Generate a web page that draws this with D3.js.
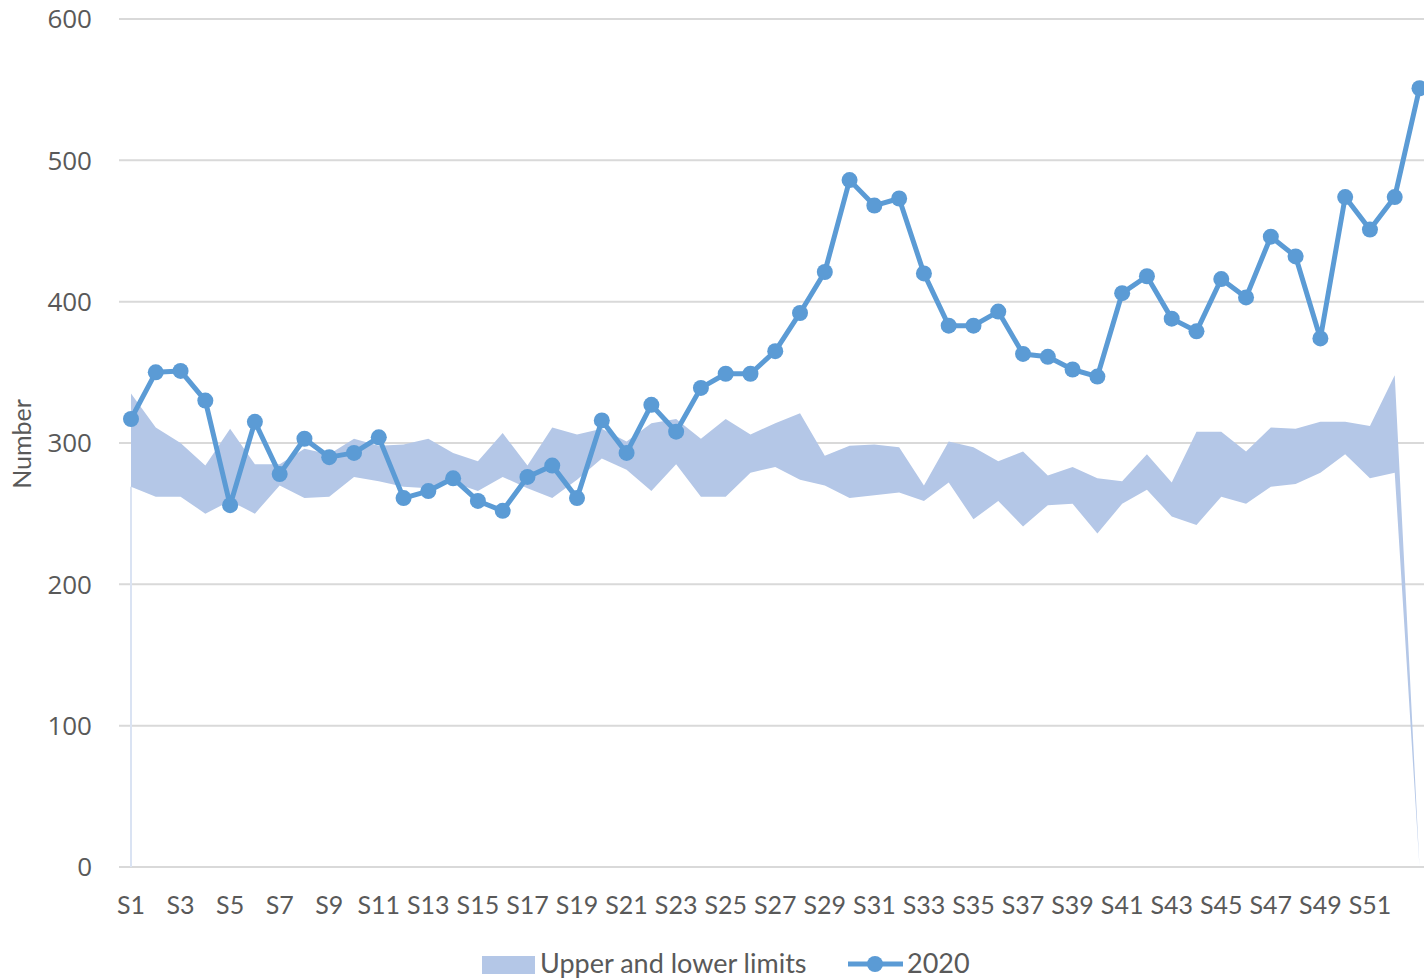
<!DOCTYPE html>
<html><head><meta charset="utf-8">
<script src="https://cdn.jsdelivr.net/npm/d3@7"></script>
<style>body{margin:0;background:#fff}svg{display:block}</style>
</head><body>
<svg id="chart" width="1424" height="980"></svg>
<script>
const weeks = d3.range(1, 54).map(i => "S" + i);
const values2020 = [317,350,351,330,256,315,278,303,290,293,304,261,266,275,259,252,276,284,261,316,293,327,308,339,349,349,365,392,421,486,468,473,420,383,383,393,363,361,352,347,406,418,388,379,416,403,446,432,374,474,451,474,551];
const upperLimit = [335,311,300,284,310,285,285,296,292,303,298,299,303,293,287,307,284,311,306,310,301,314,317,303,317,306,314,321,291,298,299,297,270,301,297,287,294,277,283,275,273,292,272,308,308,294,311,310,315,315,312,348,0];
const lowerLimit = [269,262,262,250,259,250,270,261,262,276,273,269,268,272,266,276,268,261,274,289,281,266,285,262,262,279,283,274,270,261,263,265,259,272,246,259,241,256,257,236,257,267,248,242,262,257,269,271,279,292,275,279,0];
const yTicks = [0,100,200,300,400,500,600];
const xTickLabels = weeks.filter((d,i) => i % 2 === 0 && i < 52);

const svg = d3.select("#chart");
const x = d3.scalePoint().domain(weeks).range([131, 1419.5]);
const y = d3.scaleLinear().domain([0, 600]).range([867, 19]);

// gridlines
svg.append("g").selectAll("line").data(yTicks).join("line")
  .attr("x1", 119).attr("x2", 1424)
  .attr("y1", d => y(d)).attr("y2", d => y(d))
  .attr("stroke", "#d9d9d9").attr("stroke-width", 2);

// y tick labels
svg.append("g").selectAll("text").data(yTicks).join("text")
  .attr("x", 92).attr("y", d => y(d)).attr("dy", "0.36em")
  .attr("text-anchor", "end")
  .attr("font-family", "'Open Sans', sans-serif").attr("font-size", 26)
  .attr("fill", "#595959").text(d => d);

// y axis title
svg.append("text")
  .attr("transform", "translate(31,444) rotate(-90)")
  .attr("text-anchor", "middle")
  .attr("font-family", "Lato, sans-serif").attr("font-size", 25)
  .attr("fill", "#595959").text("Number");

// faint edge of lower series at S1
svg.append("line")
  .attr("x1", x(weeks[0])).attr("x2", x(weeks[0]))
  .attr("y1", y(lowerLimit[0])).attr("y2", y(0))
  .attr("stroke", "#dae3f3").attr("stroke-width", 2);

// band
const area = d3.area()
  .x((d,i) => x(weeks[i]))
  .y0((d,i) => y(lowerLimit[i]))
  .y1((d,i) => y(upperLimit[i]));
svg.append("path").datum(weeks).attr("d", area).attr("fill", "#b4c7e7");

// 2020 line
const line = d3.line().x((d,i) => x(weeks[i])).y(d => y(d));
svg.append("path").datum(values2020).attr("d", line)
  .attr("fill", "none").attr("stroke", "#5b9bd5").attr("stroke-width", 5)
  .attr("stroke-linejoin", "round");
svg.append("g").selectAll("circle").data(values2020).join("circle")
  .attr("cx", (d,i) => x(weeks[i])).attr("cy", d => y(d)).attr("r", 8)
  .attr("fill", "#5b9bd5");

// x tick labels
svg.append("g").selectAll("text").data(xTickLabels).join("text")
  .attr("x", d => x(d)).attr("y", 914)
  .attr("text-anchor", "middle")
  .attr("font-family", "Lato, sans-serif").attr("font-size", 25)
  .attr("fill", "#595959").text(d => d);

// legend
const lg = svg.append("g");
lg.append("rect").attr("x", 482).attr("y", 956).attr("width", 53).attr("height", 18).attr("fill", "#b4c7e7");
lg.append("text").attr("x", 540).attr("y", 973)
  .attr("font-family", "Lato, sans-serif").attr("font-size", 27)
  .attr("fill", "#595959").text("Upper and lower limits");
lg.append("line").attr("x1", 848).attr("x2", 903).attr("y1", 964).attr("y2", 964)
  .attr("stroke", "#5b9bd5").attr("stroke-width", 5);
lg.append("circle").attr("cx", 875).attr("cy", 964).attr("r", 8).attr("fill", "#5b9bd5");
lg.append("text").attr("x", 907).attr("y", 973)
  .attr("font-family", "Lato, sans-serif").attr("font-size", 27)
  .attr("fill", "#595959").text("2020");
</script>
</body></html>
